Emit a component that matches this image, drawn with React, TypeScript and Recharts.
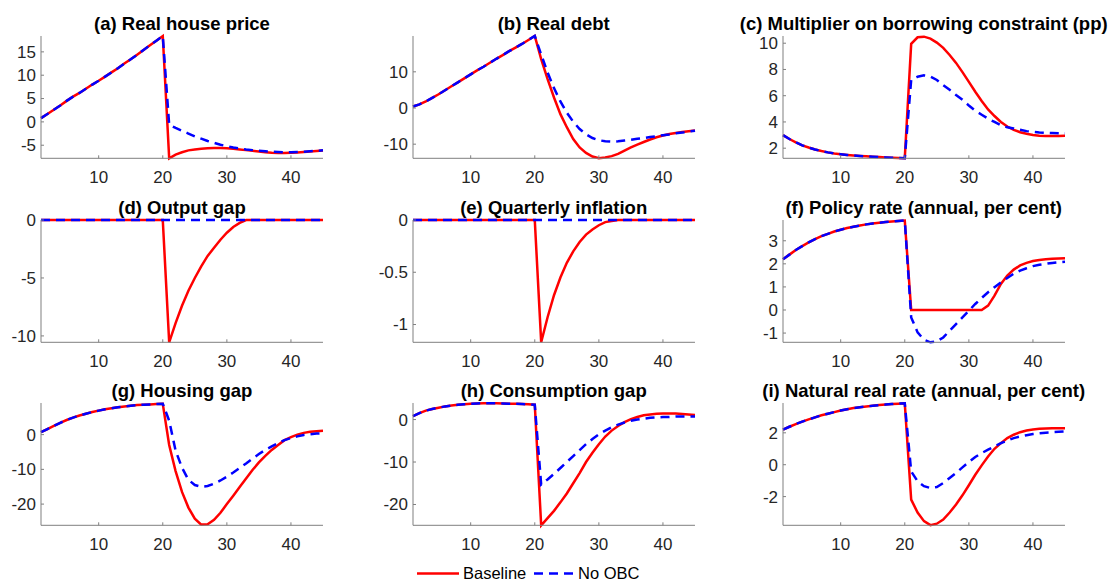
import React from 'react'
import { LineChart, Line, XAxis, YAxis } from 'recharts'

// quarters on the x axis
const periods = [
    1, 2, 3, 4, 5, 6, 7, 8, 9, 10, 11, 12, 13, 14, 15, 16, 17, 18, 19, 20,
    21, 22, 23, 24, 25, 26, 27, 28, 29, 30, 31, 32, 33, 34, 35, 36, 37, 38, 39, 40,
    41, 42, 43, 44, 45,
]
const xTicks = [10, 20, 30, 40]

/* ---------- series (both scenarios share the path up to t = 20) ---------- */

// (a) Real house price
const housePricePre = [0.8, 1.7, 2.6, 3.5, 4.5, 5.4, 6.2, 7.1, 8.0, 8.8, 9.7, 10.6, 11.5, 12.5, 13.4, 14.4, 15.4, 16.4, 17.4, 18.4]
const housePriceBase = [...housePricePre, -7.8, -7.0, -6.5, -6.1, -5.9, -5.75, -5.65, -5.6, -5.6, -5.65, -5.75, -5.9, -6.05, -6.2, -6.35, -6.5, -6.6, -6.65, -6.65, -6.6, -6.55, -6.45, -6.35, -6.25, -6.15]
const housePriceNoObc = [...housePricePre, -0.6, -1.3, -1.9, -2.5, -3.1, -3.6, -4.1, -4.5, -4.9, -5.2, -5.5, -5.7, -5.9, -6.05, -6.2, -6.3, -6.4, -6.45, -6.5, -6.5, -6.45, -6.4, -6.3, -6.2, -6.1]

// (b) Real debt
const debtPre = [0.4, 1.0, 1.8, 2.8, 3.8, 4.9, 6.0, 7.1, 8.2, 9.3, 10.4, 11.4, 12.5, 13.6, 14.6, 15.7, 16.7, 17.7, 18.8, 19.9]
const debtBase = [...debtPre, 13.5, 8.0, 2.9, -1.7, -5.3, -8.6, -10.9, -12.4, -13.4, -13.9, -13.7, -13.3, -12.7, -11.8, -10.9, -10.1, -9.4, -8.7, -8.1, -7.6, -7.2, -6.9, -6.6, -6.4, -6.2]
const debtNoObc = [...debtPre, 14.8, 9.8, 5.5, 1.8, -1.3, -3.8, -5.8, -7.3, -8.3, -8.9, -9.2, -9.3, -9.2, -9.0, -8.8, -8.5, -8.3, -8.0, -7.8, -7.5, -7.3, -7.0, -6.8, -6.5, -6.3]

// (c) Multiplier on borrowing constraint
const multPre = [3.0, 2.7, 2.45, 2.22, 2.05, 1.9, 1.78, 1.68, 1.6, 1.54, 1.49, 1.45, 1.41, 1.38, 1.35, 1.32, 1.3, 1.28, 1.26, 1.24]
const multBase = [...multPre, 9.95, 10.45, 10.5, 10.35, 10.05, 9.65, 9.1, 8.5, 7.8, 7.05, 6.3, 5.6, 4.95, 4.45, 4.0, 3.65, 3.4, 3.22, 3.1, 3.0, 2.95, 2.93, 2.92, 2.93, 2.95]
const multNoObc = [...multPre, 7.2, 7.45, 7.55, 7.45, 7.2, 6.8, 6.45, 6.05, 5.7, 5.25, 4.85, 4.55, 4.25, 4.0, 3.75, 3.6, 3.5, 3.4, 3.3, 3.25, 3.2, 3.17, 3.15, 3.13, 3.12]

// (d) Output gap
const zeroPre = [0, 0, 0, 0, 0, 0, 0, 0, 0, 0, 0, 0, 0, 0, 0, 0, 0, 0, 0, 0]
const outputBase = [...zeroPre, -10.55, -8.9, -7.4, -6.1, -5.0, -4.0, -3.1, -2.4, -1.7, -1.1, -0.6, -0.25, 0, 0, 0, 0, 0, 0, 0, 0, 0, 0, 0, 0, 0]
const outputNoObc = [...zeroPre, 0, 0, 0, 0, 0, 0, 0, 0, 0, 0, 0, 0, 0, 0, 0, 0, 0, 0, 0, 0, 0, 0, 0, 0, 0]

// (e) Quarterly inflation
const inflBase = [...zeroPre, -1.17, -0.93, -0.72, -0.55, -0.41, -0.3, -0.21, -0.14, -0.09, -0.05, -0.02, -0.01, 0, 0, 0, 0, 0, 0, 0, 0, 0, 0, 0, 0, 0]
const inflNoObc = [...zeroPre, 0, 0, 0, 0, 0, 0, 0, 0, 0, 0, 0, 0, 0, 0, 0, 0, 0, 0, 0, 0, 0, 0, 0, 0, 0]

// (f) Policy rate
const policyPre = [2.2, 2.4, 2.6, 2.77, 2.93, 3.07, 3.2, 3.3, 3.4, 3.48, 3.55, 3.61, 3.66, 3.71, 3.75, 3.78, 3.81, 3.84, 3.86, 3.88]
const policyBase = [...policyPre, 0, 0, 0, 0, 0, 0, 0, 0, 0, 0, 0, 0, 0.19, 0.62, 1.13, 1.49, 1.75, 1.93, 2.04, 2.12, 2.17, 2.2, 2.22, 2.23, 2.24]
const policyNoObc = [...policyPre, -0.32, -0.97, -1.29, -1.4, -1.36, -1.19, -0.9, -0.61, -0.32, -0.03, 0.26, 0.52, 0.77, 0.99, 1.2, 1.39, 1.57, 1.71, 1.81, 1.9, 1.96, 2.0, 2.04, 2.07, 2.09]

// (g) Housing gap
const housingPre = [0.7, 1.6, 2.5, 3.4, 4.2, 4.9, 5.5, 6.0, 6.5, 6.9, 7.3, 7.6, 7.9, 8.1, 8.3, 8.5, 8.6, 8.7, 8.8, 8.9]
const housingBase = [...housingPre, -3.0, -10.5, -16.5, -21.0, -24.2, -25.9, -25.8, -24.5, -22.5, -20.0, -17.6, -15.1, -12.6, -10.2, -8.0, -6.1, -4.4, -3.0, -1.6, -0.7, 0.0, 0.5, 0.8, 1.0, 1.1]
const housingNoObc = [...housingPre, 4.0, -4.6, -9.5, -13.0, -14.5, -15.0, -14.8, -14.1, -13.2, -12.1, -10.9, -9.6, -8.3, -6.9, -5.6, -4.4, -3.4, -2.4, -1.6, -1.0, -0.5, -0.1, 0.1, 0.3, 0.4]

// (h) Consumption gap
const consPre = [0.8, 1.5, 2.1, 2.5, 2.8, 3.1, 3.3, 3.5, 3.6, 3.7, 3.8, 3.85, 3.85, 3.85, 3.8, 3.75, 3.7, 3.65, 3.6, 3.5]
const consBase = [...consPre, -24.9, -23.2, -21.5, -19.5, -17.4, -15.0, -12.6, -10.0, -7.8, -5.8, -4.0, -2.6, -1.5, -0.6, 0.1, 0.6, 1.0, 1.2, 1.35, 1.4, 1.4, 1.4, 1.3, 1.2, 1.1]
const consNoObc = [...consPre, -15.3, -14.1, -12.8, -11.4, -10.0, -8.6, -7.2, -5.8, -4.6, -3.5, -2.6, -1.8, -1.2, -0.7, -0.3, 0.0, 0.2, 0.4, 0.5, 0.6, 0.6, 0.7, 0.7, 0.7, 0.7]

// (i) Natural real rate
const naturalPre = [2.2, 2.38, 2.55, 2.7, 2.84, 2.97, 3.1, 3.2, 3.3, 3.4, 3.48, 3.55, 3.6, 3.65, 3.7, 3.74, 3.77, 3.8, 3.83, 3.85]
const naturalBase = [...naturalPre, -2.19, -3.0, -3.54, -3.79, -3.7, -3.44, -3.0, -2.5, -1.92, -1.29, -0.63, -0.04, 0.52, 1.0, 1.35, 1.67, 1.88, 2.04, 2.15, 2.21, 2.25, 2.27, 2.28, 2.28, 2.28]
const naturalNoObc = [...naturalPre, -0.42, -1.04, -1.35, -1.46, -1.4, -1.15, -0.83, -0.52, -0.17, 0.17, 0.48, 0.73, 0.94, 1.15, 1.35, 1.52, 1.67, 1.77, 1.85, 1.92, 1.97, 2.01, 2.04, 2.06, 2.08]

/* ---------- panel setup ---------- */

type Panel = {
    title: string
    base: number[]
    noObc: number[]
    domain: [number, number]
    yTicks: number[]
}

const panels: Panel[] = [
    { title: '(a) Real house price', base: housePriceBase, noObc: housePriceNoObc, domain: [-7.8, 18.4], yTicks: [-5, 0, 5, 10, 15] },
    { title: '(b) Real debt', base: debtBase, noObc: debtNoObc, domain: [-13.9, 19.9], yTicks: [-10, 0, 10] },
    { title: '(c) Multiplier on borrowing constraint (pp)', base: multBase, noObc: multNoObc, domain: [1.23, 10.55], yTicks: [2, 4, 6, 8, 10] },
    { title: '(d) Output gap', base: outputBase, noObc: outputNoObc, domain: [-10.55, 0], yTicks: [-10, -5, 0] },
    { title: '(e) Quarterly inflation', base: inflBase, noObc: inflNoObc, domain: [-1.17, 0], yTicks: [-1, -0.5, 0] },
    { title: '(f) Policy rate (annual, per cent)', base: policyBase, noObc: policyNoObc, domain: [-1.4, 3.9], yTicks: [-1, 0, 1, 2, 3] },
    { title: '(g) Housing gap', base: housingBase, noObc: housingNoObc, domain: [-26.1, 9.1], yTicks: [-20, -10, 0] },
    { title: '(h) Consumption gap', base: consBase, noObc: consNoObc, domain: [-24.9, 3.9], yTicks: [-20, -10, 0] },
    { title: '(i) Natural real rate (annual, per cent)', base: naturalBase, noObc: naturalNoObc, domain: [-3.8, 3.87], yTicks: [-2, 0, 2] },
]

const RED = '#ff0000'
const BLUE = '#0000ff'
const AXIS = '#808080'
const TICK_TEXT = '#262626'
const FONT = '"Liberation Sans", Arial, Helvetica, sans-serif'
const DASH = '9 6'
const TICK_FONT = 17

// plot-area geometry (px on the page)
const colLeft = [41, 412.7, 782.7]
const rowTop = [36, 220, 403.3]
const PW = 282
const PH = 122.3
const YW = 45      // y axis band
const PAD_T = 14   // room above the plot so top tick labels are not cut
const PAD_R = 6
const XH = 30      // x axis band
const X_MARGIN = 19
const Y_MARGIN = 5

/* ---------- ticks (MATLAB style: short inward marks) ---------- */

const XTick = (props: any) => {
    const { x, y, payload } = props
    const axisY = y - X_MARGIN
    return (
        <g>
            <line x1={x} x2={x} y1={axisY} y2={axisY - 3} stroke={AXIS} strokeWidth={1} />
            <text x={x} y={y} dy="0.35em" textAnchor="middle" fill={TICK_TEXT} fontSize={TICK_FONT} fontFamily={FONT}>
                {payload.value}
            </text>
        </g>
    )
}

const YTick = (props: any) => {
    const { x, y, payload } = props
    const axisX = x + Y_MARGIN
    return (
        <g>
            <line x1={axisX} x2={axisX + 3} y1={y} y2={y} stroke={AXIS} strokeWidth={1} />
            <text x={x} y={y} dy="0.35em" textAnchor="end" fill={TICK_TEXT} fontSize={TICK_FONT} fontFamily={FONT}>
                {payload.value}
            </text>
        </g>
    )
}

const PanelChart: React.FC<{ panel: Panel; left: number; top: number }> = ({ panel, left, top }) => {
    const rows = periods.map((t, i) => ({ t, base: panel.base[i], noObc: panel.noObc[i] }))
    return (
        <>
            <div style={{ position: 'absolute', left: left - YW, top: top - PAD_T }}>
                <LineChart
                    width={YW + PW + PAD_R}
                    height={PAD_T + PH + XH}
                    data={rows}
                    margin={{ top: PAD_T, right: PAD_R, bottom: 0, left: 0 }}
                >
                    <XAxis
                        type="number"
                        dataKey="t"
                        domain={[1, 45]}
                        ticks={xTicks}
                        interval={0}
                        height={XH}
                        tickSize={0}
                        tickMargin={X_MARGIN}
                        tickLine={false}
                        axisLine={{ stroke: AXIS, strokeWidth: 1 }}
                        tick={<XTick />}
                    />
                    <YAxis
                        type="number"
                        domain={panel.domain}
                        ticks={panel.yTicks}
                        interval={0}
                        width={YW}
                        tickSize={0}
                        tickMargin={Y_MARGIN}
                        tickLine={false}
                        axisLine={{ stroke: AXIS, strokeWidth: 1 }}
                        tick={<YTick />}
                    />
                    <Line type="linear" dataKey="base" stroke={RED} strokeWidth={2.5} dot={false} activeDot={false} isAnimationActive={false} />
                    <Line type="linear" dataKey="noObc" stroke={BLUE} strokeWidth={2.5} strokeDasharray={DASH} dot={false} activeDot={false} isAnimationActive={false} />
                </LineChart>
            </div>
            <div
                style={{
                    position: 'absolute',
                    left: left - 60,
                    width: PW + 120,
                    top: top - 21.5,
                    textAlign: 'center',
                    fontFamily: FONT,
                    fontWeight: 'bold',
                    fontSize: 18.5,
                    lineHeight: '18px',
                    color: '#000',
                    whiteSpace: 'nowrap',
                }}
            >
                {panel.title}
            </div>
        </>
    )
}

export default function App() {
    return (
        <div style={{ position: 'absolute', left: 0, top: 0, width: 1110, height: 581, background: '#fff', overflow: 'hidden' }}>
            {panels.map((p, i) => (
                <PanelChart key={p.title} panel={p} left={colLeft[i % 3]} top={rowTop[Math.floor(i / 3)]} />
            ))}
            {/* legend */}
            <svg style={{ position: 'absolute', left: 0, top: 562 }} width={1110} height={19}>
                <line x1={417} x2={459} y1={11.5} y2={11.5} stroke={RED} strokeWidth={2.5} />
                <text x={463} y={11.5} dy="0.35em" fontSize={16.5} fontFamily={FONT} fill="#000">Baseline</text>
                <line x1={534} x2={576} y1={11.5} y2={11.5} stroke={BLUE} strokeWidth={2.5} strokeDasharray={DASH} />
                <text x={578} y={11.5} dy="0.35em" fontSize={16.5} fontFamily={FONT} fill="#000">No OBC</text>
            </svg>
        </div>
    )
}
